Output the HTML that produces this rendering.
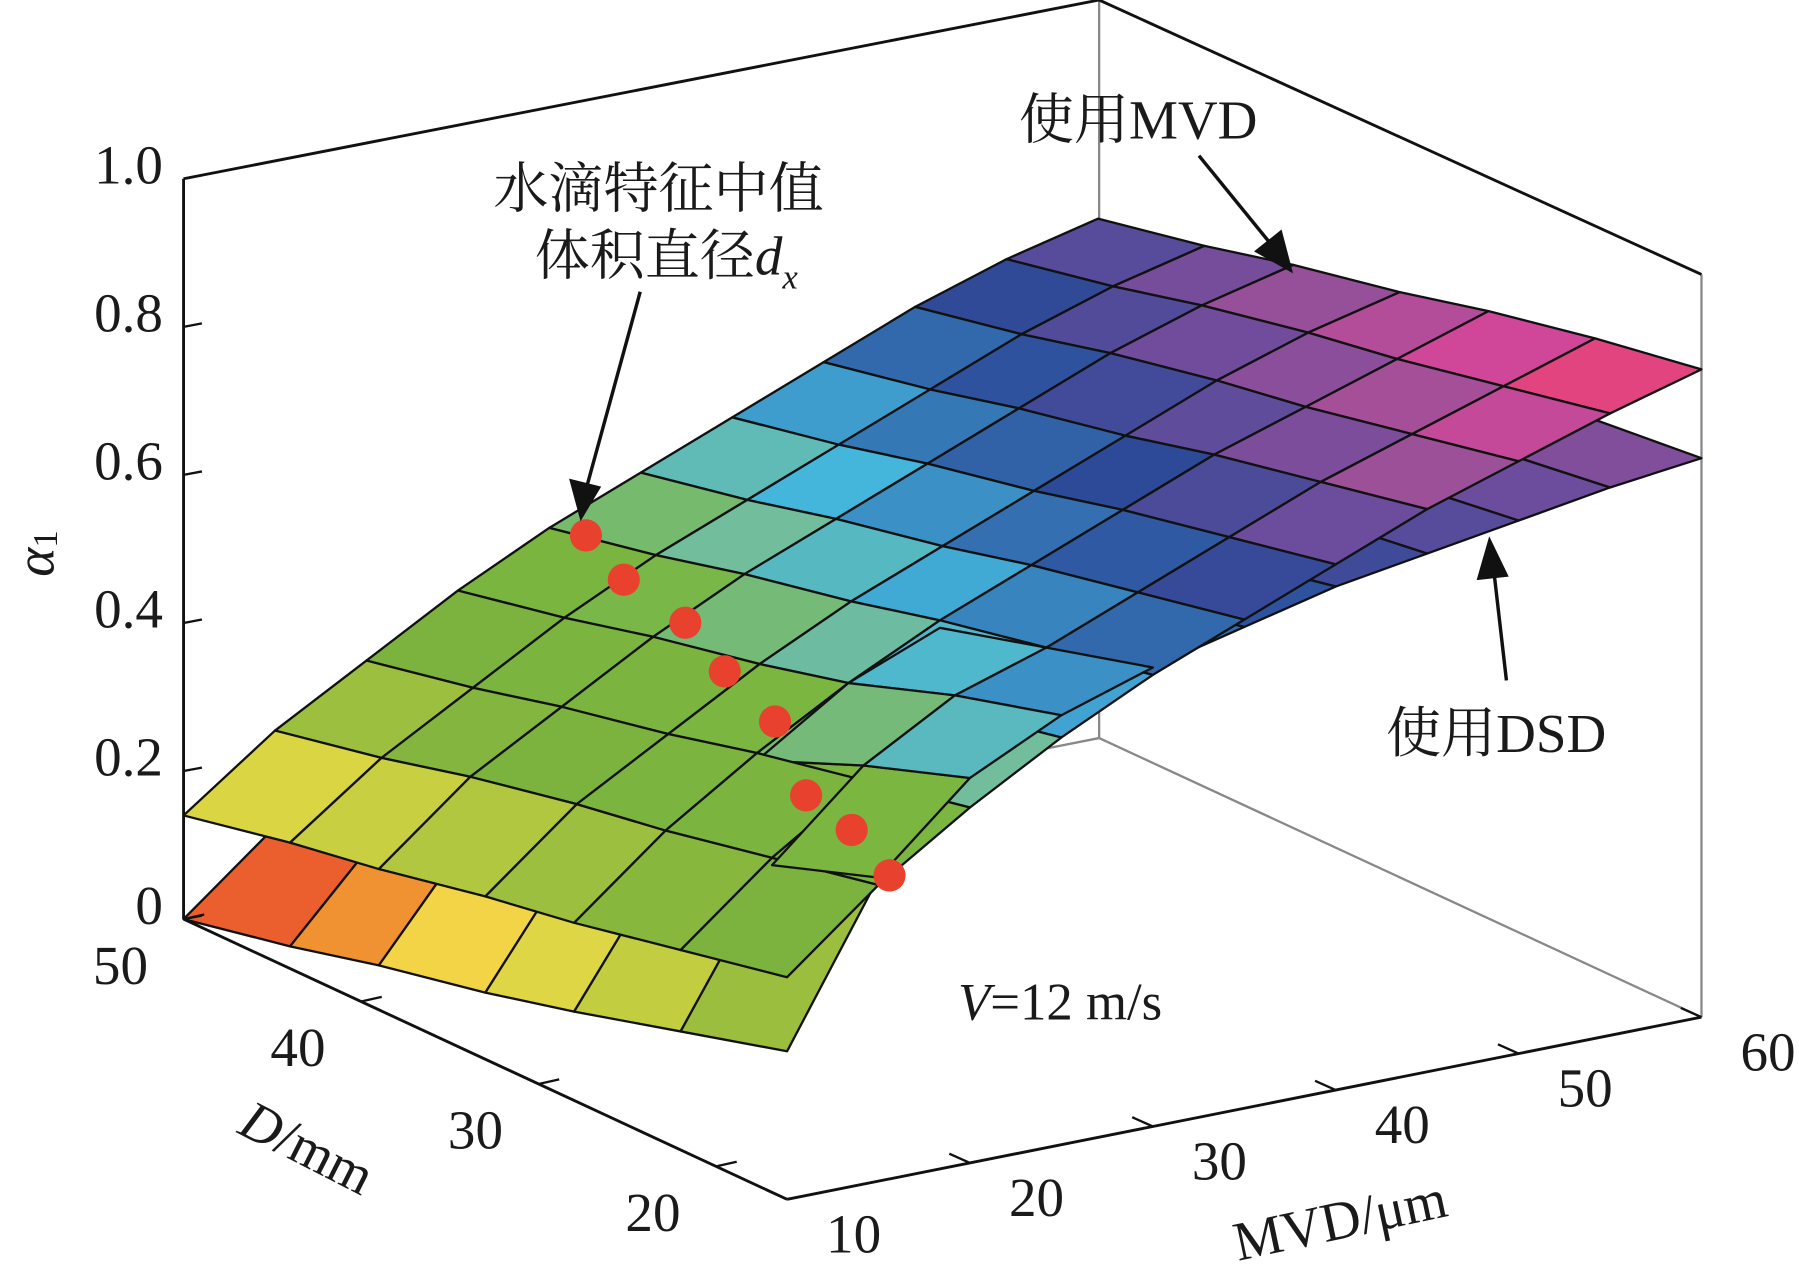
<!DOCTYPE html>
<html><head><meta charset="utf-8">
<style>
html,body{margin:0;padding:0;background:#fff;}
svg{display:block;}
text{font-family:"Liberation Serif","Noto Serif CJK SC",serif;fill:#1a1a1a;}
</style></head>
<body>
<svg id="chart" width="1799" height="1272" viewBox="0 0 1568 1103" preserveAspectRatio="none" xmlns="http://www.w3.org/2000/svg">
<g id="box">
<line x1="958" y1="0" x2="958" y2="640" stroke="#888" stroke-width="2"/>
<line x1="1483" y1="238" x2="1483" y2="882" stroke="#888" stroke-width="2"/>
<line x1="160" y1="797" x2="958" y2="640" stroke="#888" stroke-width="2"/>
<line x1="958" y1="640" x2="1483" y2="882" stroke="#888" stroke-width="2"/>
<line x1="160" y1="155" x2="958" y2="0" stroke="#111" stroke-width="2.5"/>
<line x1="958" y1="0" x2="1483" y2="238" stroke="#111" stroke-width="2.5"/>
</g>
<g id="surf"></g>
<g id="axes"></g>
<g id="dots"></g>
<g id="annot">
<text x="888" y="120" font-size="48">使用MVD</text>
<line x1="1045" y1="135" x2="1108" y2="212" stroke="#111" stroke-width="3"/>
<polygon points="1127,237 1093,218 1117,199" fill="#111"/>
<text x="1208" y="652" font-size="48">使用DSD</text>
<line x1="1313" y1="590" x2="1302" y2="495" stroke="#111" stroke-width="3"/>
<polygon points="1298,465 1287,503 1315,500" fill="#111"/>
<text x="430" y="180" font-size="48">水滴特征中值</text>
<text x="466" y="238" font-size="48">体积直径<tspan font-style="italic">d</tspan><tspan font-style="italic" font-size="30" dy="12">x</tspan></text>
<line x1="558" y1="253" x2="512" y2="420" stroke="#111" stroke-width="3"/>
<polygon points="506,452 496,415 524,422" fill="#111"/>
<text x="835" y="884" font-size="46"><tspan font-style="italic">V</tspan>=12 m/s</text>
</g>
</svg>
<script>
// Data
const mvdVals = [10,15,20,25,30,35,40,45,50,55,60];
const dVals = [50,44,39,33,28,22,16];
const zUpper = [
 [0.14,0.23,0.30,0.37,0.43,0.48,0.53,0.58,0.63,0.67,0.70],
 [0.17,0.26,0.33,0.40,0.46,0.51,0.56,0.61,0.66,0.70,0.73],
 [0.19,0.29,0.36,0.43,0.49,0.54,0.59,0.64,0.69,0.73,0.76],
 [0.22,0.32,0.39,0.46,0.52,0.57,0.62,0.67,0.72,0.76,0.79],
 [0.24,0.34,0.42,0.49,0.55,0.60,0.65,0.70,0.74,0.78,0.82],
 [0.27,0.37,0.45,0.52,0.58,0.63,0.68,0.73,0.77,0.81,0.85],
 [0.30,0.40,0.48,0.55,0.61,0.66,0.71,0.76,0.80,0.84,0.875]
];
const zLower = [
 [0.00,0.10,0.18,0.26,0.33,0.40,0.45,0.49,0.52,0.55,0.57],
 [0.03,0.16,0.25,0.33,0.40,0.46,0.50,0.54,0.57,0.60,0.62],
 [0.06,0.21,0.31,0.39,0.45,0.50,0.54,0.58,0.61,0.64,0.66],
 [0.09,0.26,0.36,0.44,0.50,0.54,0.58,0.62,0.65,0.67,0.69],
 [0.12,0.30,0.41,0.49,0.54,0.58,0.62,0.65,0.68,0.70,0.72],
 [0.16,0.36,0.47,0.54,0.58,0.62,0.65,0.68,0.70,0.72,0.74],
 [0.20,0.41,0.52,0.58,0.62,0.65,0.68,0.70,0.72,0.74,0.755]
];
const dotMVD = [32,29.8,28.6,26.1,23.9,19,17.9,15.6];
const dotD = [50,45.6,40.9,36.1,31,24.2,20.5,16];
const dotZ = [0.41,0.41,0.41,0.41,0.41,0.41,0.41,0.41];
const zTicks = [0,0.2,0.4,0.6,0.8,1.0];
const zTickLabels = ["0","0.2","0.4","0.6","0.8","1.0"];
const dTicks = [50,40,30,20];
const mvdTicks = [10,20,30,40,50,60];

const NS="http://www.w3.org/2000/svg";
const O={x:686,y:1040}, VM={x:797,y:-158}, VD={x:-526,y:-243}, ZS=642;
const Dmin=16, Dmax=50;
function proj(m,d,z){
  const t=(m-10)/50, u=(d-Dmin)/(Dmax-Dmin);
  return {x:O.x+VM.x*t+VD.x*u, y:O.y+VM.y*t+VD.y*u-ZS*z, by:O.y+VM.y*t+VD.y*u};
}
const stops=[[0,"#e2382a"],[0.06,"#e8502c"],[0.11,"#f08a30"],[0.16,"#f2dc48"],[0.23,"#c6cf40"],[0.32,"#7cb23e"],[0.44,"#7ab640"],[0.5,"#72bd9c"],[0.55,"#44b6dc"],[0.6,"#3578b6"],[0.66,"#2c4a98"],[0.72,"#6c4c9c"],[0.77,"#a05098"],[0.83,"#e0449a"],[0.88,"#e6443a"]];
function hx(c){return [1,3,5].map(i=>parseInt(c.substr(i,2),16));}
function cmap(z){
  if(z<=stops[0][0])return stops[0][1];
  for(let i=1;i<stops.length;i++){if(z<=stops[i][0]){const a=hx(stops[i-1][1]),b=hx(stops[i][1]);const f=(z-stops[i-1][0])/(stops[i][0]-stops[i-1][0]);return "rgb("+a.map((v,k)=>Math.round(v+(b[k]-v)*f)).join(",")+")";}}
  return stops[stops.length-1][1];
}
const quads=[];
[[zUpper,"upper"],[zLower,"lower"]].forEach(([Z,name])=>{
  for(let i=0;i<dVals.length-1;i++)for(let j=0;j<mvdVals.length-1;j++){
    const c=[[i,j],[i,j+1],[i+1,j+1],[i+1,j]].map(([a,b])=>({p:proj(mvdVals[b],dVals[a],Z[a][b]),z:Z[a][b]}));
    const zm=c.reduce((s,q)=>s+q.z,0)/4, bym=c.reduce((s,q)=>s+q.p.by,0)/4;
    quads.push({c,zm,name,i,j,depth:2*bym+370*zm});
  }
});
quads.sort((a,b)=>a.depth-b.depth);
const sg=document.getElementById('surf');
quads.forEach(q=>{
  const p=document.createElementNS(NS,'polygon');
  p.setAttribute('points',q.c.map(k=>k.p.x.toFixed(1)+","+k.p.y.toFixed(1)).join(" "));
  p.setAttribute('fill',cmap(q.zm));
  p.setAttribute('stroke','#111');p.setAttribute('stroke-width','2');p.setAttribute('stroke-linejoin','round');
  
  
  sg.appendChild(p);
});
const ag=document.getElementById('axes');
function line(x1,y1,x2,y2,w,c){const l=document.createElementNS(NS,'line');l.setAttribute('x1',x1);l.setAttribute('y1',y1);l.setAttribute('x2',x2);l.setAttribute('y2',y2);l.setAttribute('stroke',c||'#111');l.setAttribute('stroke-width',w||2.5);ag.appendChild(l);return l;}
function text(s,x,y,size,anchor){const t=document.createElementNS(NS,'text');t.textContent=s;t.setAttribute('x',x);t.setAttribute('y',y);t.setAttribute('font-size',size);t.setAttribute('text-anchor',anchor||'middle');t.setAttribute('dominant-baseline','central');ag.appendChild(t);return t;}
let a=proj(10,50,0),b=proj(10,50,1);
let l=line(a.x,a.y,b.x,b.y);


a=proj(10,50,0);b=proj(10,Dmin,0);
l=line(a.x,a.y,b.x,b.y);


a=proj(10,Dmin,0);b=proj(60,Dmin,0);
l=line(a.x,a.y,b.x,b.y);


zTicks.forEach((z,k)=>{
  const p=proj(10,50,z);
  const tl=line(p.x,p.y,p.x+16,p.y-3,2);
  
  
  const t=text(zTickLabels[k],p.x-18,p.y-12,48,'end');
  
  
});
dTicks.forEach(d=>{
  const p=proj(10,d,0);
  const tl=line(p.x,p.y,p.x+18,p.y-4,2);
  
  
  const t=text(String(d),p.x-55,p.y+40,48);
  
  
});
mvdTicks.forEach(m=>{
  const p=proj(m,Dmin,0);
  const tl=line(p.x,p.y,p.x-18,p.y-8,2);
  
  
  const t=text(String(m),p.x+58,p.y+30,48);
  
  
});
let tt=text('',268,995,48);
tt.innerHTML='<tspan font-style="italic">D</tspan>/mm';
tt.setAttribute('transform','rotate(27 268 995)');


tt=text('MVD/μm',1168,1058,48);
tt.setAttribute('transform','rotate(-12 1168 1058)');


tt=text('',30,480,48);
tt.innerHTML='<tspan font-style="italic">α</tspan><tspan font-size="30" dy="10">1</tspan>';
tt.setAttribute('transform','rotate(-90 30 480)');


const dg=document.getElementById('dots');
dotMVD.forEach((m,k)=>{
  const p=proj(m,dotD[k],dotZ[k]);
  const c=document.createElementNS(NS,'circle');
  c.setAttribute('cx',p.x.toFixed(1));c.setAttribute('cy',p.y.toFixed(1));c.setAttribute('r',14);c.setAttribute('fill','#e8412e');
  
  
  dg.appendChild(c);
});
</script>
</body></html>
